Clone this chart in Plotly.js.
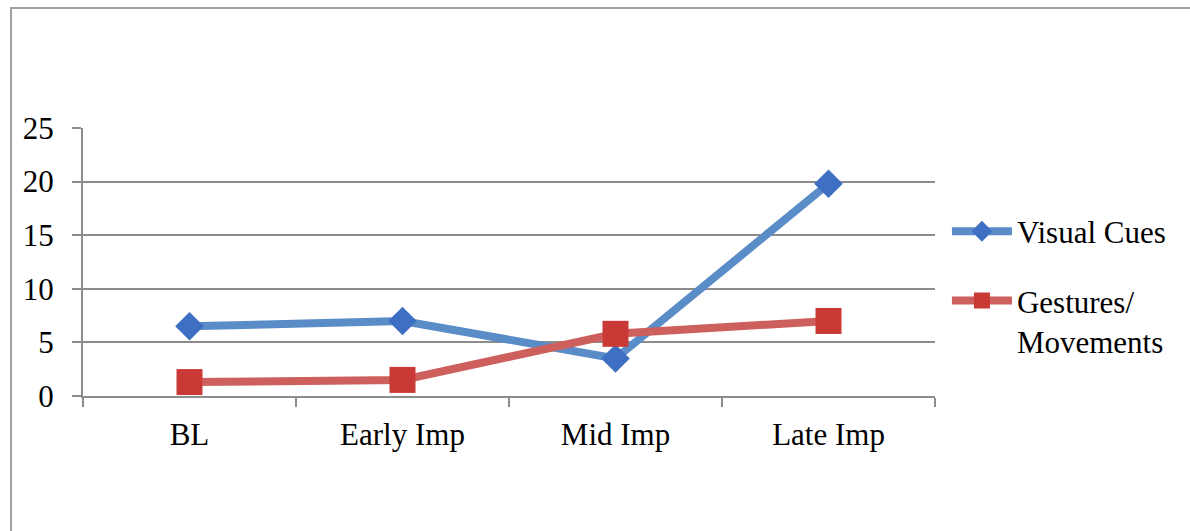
<!DOCTYPE html>
<html><head><meta charset="utf-8">
<script src="https://cdn.plot.ly/plotly-3.0.1.min.js"></script>
<style>html,body{margin:0;padding:0;background:#fff}#chart{width:1190px;height:531px}</style>
</head><body><div id="chart"></div>
<script>
const categories = ["BL", "Early Imp", "Mid Imp", "Late Imp"];
const visualCues = [6.5, 7.0, 3.5, 19.8];
const gestures = [1.3, 1.5, 5.8, 7.0];
const seriesNames = ["Visual Cues", "Gestures/<br>Movements"];
const yTicks = [0, 5, 10, 15, 20, 25];

const font = {family: "Liberation Serif, Times New Roman, serif", size: 31, color: "#000"};
const traces = [
  {x: categories, y: visualCues, name: seriesNames[0], legendgroup: "a", mode: "lines+markers", type: "scatter",
   line: {color: "#5A8DC8", width: 8},
   marker: {symbol: "diamond", size: 22, color: "#3E6FC2", line: {width: 0}}},
  {x: categories, y: gestures, name: seriesNames[1], legendgroup: "b", mode: "lines+markers", type: "scatter",
   line: {color: "#CD5F5C", width: 8},
   marker: {symbol: "square", size: 26, color: "#C93A37", line: {width: 0}}}
];
const layout = {
  width: 1190, height: 531,
  margin: {l: 83, r: 255, t: 128, b: 135},
  paper_bgcolor: "#fff", plot_bgcolor: "#fff",
  font: font,
  showlegend: true,
  legend: {x: 1.014, xanchor: "left", y: 0.41, yanchor: "middle", font: font, traceorder: "grouped",
           tracegroupgap: 26, itemwidth: 60, valign: "top", bgcolor: "rgba(0,0,0,0)"},
  xaxis: {type: "category", range: [-0.5, 3.5], showgrid: false, showline: true,
          linecolor: "#8c8c8c", linewidth: 2, ticks: "outside", tickson: "boundaries",
          ticklen: 9, tickwidth: 2, tickcolor: "#8c8c8c", ticklabelstandoff: 10,
          tickfont: font, zeroline: false, fixedrange: true},
  yaxis: {range: [0, 25], tickvals: yTicks, showgrid: true, gridcolor: "#8c8c8c", gridwidth: 2,
          showline: true, linecolor: "#8c8c8c", linewidth: 2, ticks: "outside", ticklen: 9,
          tickwidth: 2, tickcolor: "#8c8c8c", ticklabelstandoff: 12, tickfont: font,
          zeroline: false, fixedrange: true},
  shapes: [{type: "rect", xref: "paper", yref: "paper", x0: -0.0845, x1: 1.5, y0: -1, y1: 1.4478,
            line: {color: "#a0a0a0", width: 2}, fillcolor: "rgba(0,0,0,0)", layer: "below"}]
};
Plotly.newPlot("chart", traces, layout, {displayModeBar: false, staticPlot: true});
</script></body></html>
